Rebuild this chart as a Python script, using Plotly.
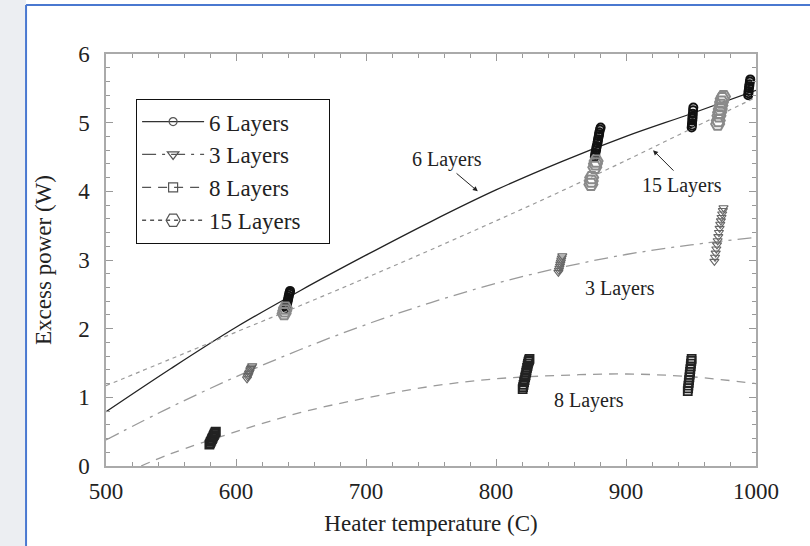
import plotly.graph_objects as go

# ---- fitted curves ----
curve_x = [500, 550, 600, 650, 700, 750, 800, 850, 900, 950, 1000]
fit_6 = [0.79, 1.42, 2.02, 2.56, 3.07, 3.56, 4.02, 4.43, 4.80, 5.13, 5.47]
fit_15 = [1.17, 1.56, 1.95, 2.34, 2.74, 3.15, 3.57, 4.00, 4.45, 4.91, 5.37]
fit_3 = [0.38, 0.86, 1.30, 1.70, 2.06, 2.38, 2.66, 2.89, 3.08, 3.22, 3.33]
fit8_x = [527, 550, 600, 650, 700, 750, 800, 850, 900, 950, 1000]
fit_8 = [0.0, 0.18, 0.50, 0.78, 0.99, 1.16, 1.27, 1.32, 1.34, 1.30, 1.20]

# ---- measured points ----
pts6_x = [638.5, 638.8, 639, 639.3, 639.6, 640, 640.3, 640.6, 641, 641.3, 641.6,
          876, 876.3, 876.5, 877, 877.2, 877.5, 878, 878.3, 878.5, 879, 879.3, 879.5, 880, 880.5,
          950.5, 950.7, 950.8, 951, 951.1, 951.2, 951.4, 951.6, 951.8,
          994, 994.2, 994.3, 994.6, 994.8, 995, 995.3, 995.6]
pts6_y = [2.30, 2.32, 2.34, 2.36, 2.39, 2.42, 2.45, 2.48, 2.51, 2.53, 2.55,
          4.50, 4.53, 4.56, 4.60, 4.63, 4.66, 4.70, 4.73, 4.76, 4.80, 4.83, 4.86, 4.90, 4.93,
          4.93, 4.96, 4.99, 5.03, 5.06, 5.09, 5.13, 5.18, 5.22,
          5.40, 5.43, 5.46, 5.50, 5.53, 5.56, 5.60, 5.63]

pts15_x = [637, 637.5, 638,
           873, 873.3, 873.6, 876, 876.5, 877,
           970.5, 971, 971.5, 972, 972.5, 973, 973.5, 974, 975]
pts15_y = [2.22, 2.26, 2.30,
           4.10, 4.15, 4.20, 4.35, 4.40, 4.44,
           4.98, 5.03, 5.10, 5.15, 5.20, 5.25, 5.30, 5.35, 5.38]

pts3_x = [608.5, 609, 609.5, 610, 610.5, 611, 611.5, 612, 612.5,
          848, 848.4, 848.8, 849.2, 849.5, 849.9, 850.2, 850.6, 851,
          968, 968.5, 969, 969.5, 970, 970.5, 971, 971.5, 972, 972.5, 973, 973.5, 974, 974.5, 975]
pts3_y = [1.27, 1.30, 1.32, 1.35, 1.37, 1.40, 1.42, 1.44, 1.46,
          2.82, 2.85, 2.88, 2.91, 2.94, 2.97, 3.00, 3.03, 3.06,
          2.98, 3.04, 3.10, 3.16, 3.22, 3.28, 3.34, 3.40, 3.46, 3.52, 3.57, 3.62, 3.67, 3.72, 3.76]

pts8_x = [579.5, 580, 580.5, 581, 581.5, 582, 582.5, 583, 583.5, 584, 584.5,
          820.5, 820.8, 821.2, 821.6, 822, 822.4, 822.8, 823.2, 823.5, 823.9, 824.3, 824.6, 825, 825.4, 825.8,
          947.5, 947.8, 948, 948.3, 948.5, 948.8, 949, 949.3, 949.5, 949.8, 950, 950.3, 950.5]
pts8_y = [0.31, 0.33, 0.35, 0.37, 0.39, 0.41, 0.43, 0.45, 0.47, 0.49, 0.50,
          1.12, 1.15, 1.18, 1.22, 1.25, 1.29, 1.32, 1.36, 1.39, 1.43, 1.46, 1.49, 1.52, 1.54, 1.56,
          1.09, 1.13, 1.17, 1.21, 1.25, 1.29, 1.33, 1.37, 1.41, 1.45, 1.49, 1.53, 1.56]

x_ticks = [500, 600, 700, 800, 900, 1000]
y_ticks = [0, 1, 2, 3, 4, 5, 6]

FONT = "Liberation Serif, Times New Roman, serif"
TXT = "#222222"

series = [
    dict(name="6 Layers", cx=curve_x, cy=fit_6, px=pts6_x, py=pts6_y,
         lcolor="#222222", dash="solid", width=1.3,
         sym="circle-open", msize=8, mcolor="#111111", mw=2, legsize=8),
    dict(name="3 Layers", cx=curve_x, cy=fit_3, px=pts3_x, py=pts3_y,
         lcolor="#9a9a9a", dash="14px,6px,3px,6px", width=1.3,
         sym="triangle-down-open", msize=8, mcolor="#666666", mw=1.1, legsize=10),
    dict(name="8 Layers", cx=fit8_x, cy=fit_8, px=pts8_x, py=pts8_y,
         lcolor="#9a9a9a", dash="9px,7px", width=1.3,
         sym="square-open", msize=8, mcolor="#222222", mw=1.8, legsize=9),
    dict(name="15 Layers", cx=curve_x, cy=fit_15, px=pts15_x, py=pts15_y,
         lcolor="#9a9a9a", dash="4px,4px", width=1.2,
         sym="hexagon2-open", msize=13, mcolor="#8a8a8a", mw=2, legsize=14),
]

fig = go.Figure()
for s in series:
    fig.add_trace(go.Scatter(x=s["cx"], y=s["cy"], mode="lines", line_shape="spline",
                             line=dict(color=s["lcolor"], dash=s["dash"], width=s["width"]),
                             showlegend=False, hoverinfo="skip"))
    fig.add_trace(go.Scatter(x=s["px"], y=s["py"], mode="markers",
                             marker=dict(symbol=s["sym"], size=s["msize"],
                                         color=s["mcolor"], line=dict(width=s["mw"], color=s["mcolor"])),
                             showlegend=False))
for i, s in enumerate(series):
    label = s["name"] + ("\u00a0\u00a0\u00a0\u00a0" if i == 3 else "")
    fig.add_trace(go.Scatter(x=[None], y=[None], mode="lines+markers", name=label,
                             legendgroup=f"g{i}",
                             line=dict(color="#333333" if i == 0 else "#555555",
                                       dash=s["dash"], width=1.3),
                             marker=dict(symbol=s["sym"], size=s["legsize"],
                                         color="#555555", line=dict(width=1.2, color="#555555"))))

axis_common = dict(
    showline=True, linecolor="#aaaaaa", linewidth=1.5, mirror="ticks",
    ticks="inside", ticklen=7, tickcolor="#999999", tickwidth=1,
    showgrid=False, zeroline=False,
    tickfont=dict(family=FONT, size=23, color=TXT),
)

fig.update_xaxes(range=[500, 1000], tickvals=x_ticks,
                 minor=dict(dtick=20, ticks="inside", ticklen=4, tickcolor="#999999"),
                 title=dict(text="Heater temperature (C)", font=dict(family=FONT, size=23, color=TXT),
                            standoff=12),
                 ticklabelstandoff=4,
                 **axis_common)
fig.update_yaxes(range=[0, 6], tickvals=y_ticks,
                 minor=dict(dtick=0.2, ticks="inside", ticklen=4, tickcolor="#999999"),
                 title=dict(text="Excess power (W)", font=dict(family=FONT, size=23, color=TXT),
                            standoff=20),
                 ticklabelstandoff=10,
                 **axis_common)

anno_font = dict(family=FONT, size=20, color=TXT)
fig.add_annotation(x=786, y=4.0, ax=768.5, ay=4.28, axref="x", ayref="y",
                   text="", showarrow=True, arrowhead=2, arrowsize=1, arrowwidth=1, arrowcolor="#222")
fig.add_annotation(x=762.3, y=4.46, text="6 Layers", showarrow=False, font=anno_font)
fig.add_annotation(x=920.8, y=4.60, ax=937.7, ay=4.28, axref="x", ayref="y",
                   text="", showarrow=True, arrowhead=2, arrowsize=1, arrowwidth=1, arrowcolor="#222")
fig.add_annotation(x=943, y=4.08, text="15 Layers", showarrow=False, font=anno_font)
fig.add_annotation(x=895, y=2.59, text="3 Layers", showarrow=False, font=anno_font)
fig.add_annotation(x=871.5, y=0.96, text="8 Layers", showarrow=False, font=anno_font)

# outer page frame (blue border and pale strip at left)
fig.add_shape(type="rect", xref="paper", yref="paper", x0=-0.17, x1=-0.123, y0=-0.2, y1=1.14,
              fillcolor="#eceef2", line_width=0, layer="below")
fig.add_shape(type="line", xref="paper", yref="paper", x0=-0.123, x1=-0.123, y0=-0.2, y1=1.119,
              line=dict(color="#4a78d0", width=2))
fig.add_shape(type="line", xref="paper", yref="paper", x0=-0.123, x1=1.1, y0=1.119, y1=1.119,
              line=dict(color="#4a78d0", width=2))

fig.update_layout(
    width=810, height=546,
    margin=dict(l=106, r=54, t=54, b=80),
    paper_bgcolor="white", plot_bgcolor="white",
    font=dict(family=FONT, color=TXT),
    showlegend=True,
    legend=dict(x=0.046, y=0.891, xanchor="left", yanchor="top",
                bgcolor="white", bordercolor="#111111", borderwidth=1.2,
                font=dict(family=FONT, size=23, color=TXT),
                itemwidth=62, tracegroupgap=1, traceorder="normal"),
)

fig.write_html("out.html", config={"displayModeBar": False},
               post_script="document.body.style.margin='0';")
